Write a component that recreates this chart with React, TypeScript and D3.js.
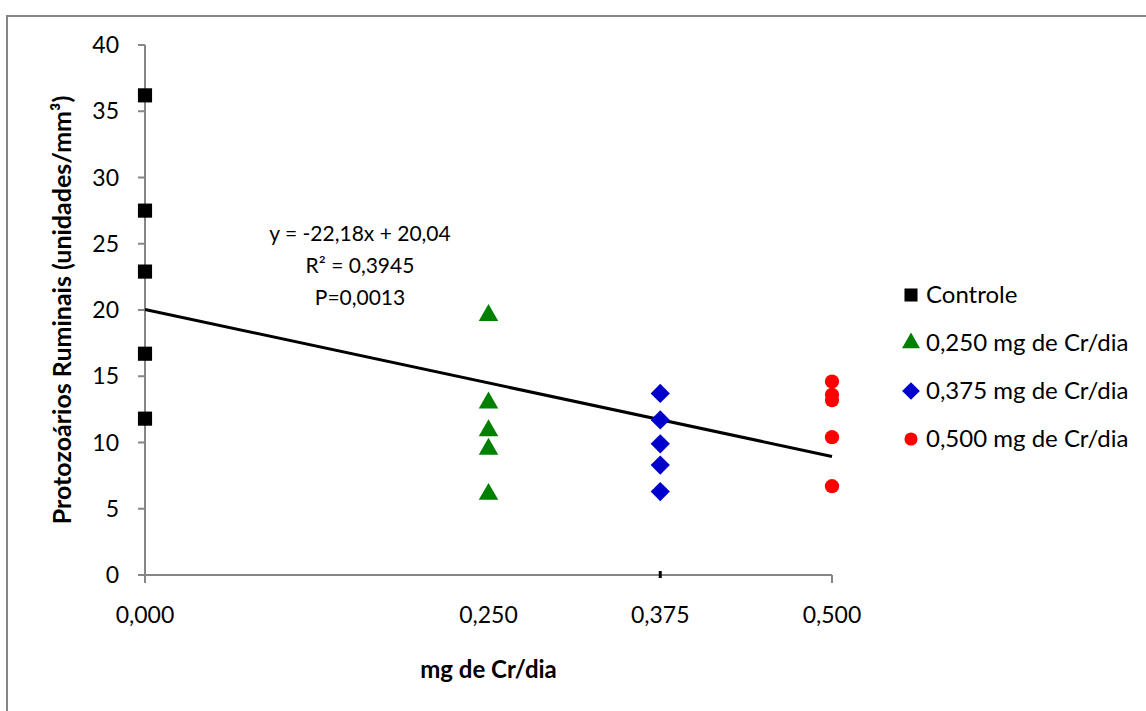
import * as d3 from 'd3';
import { useEffect, useRef } from 'react';

// values
const doses = [0, 0.25, 0.375, 0.5];
const doseLabels = ['0,000', '0,250', '0,375', '0,500'];
const controle = [36.2, 27.5, 22.9, 16.7, 11.8];
const cr250 = [19.6, 13.0, 10.9, 9.5, 6.1];
const cr375 = [13.7, 11.7, 9.9, 8.3, 6.3];
const cr500 = [14.6, 13.6, 13.2, 10.4, 6.7];
const yTicks = [0, 5, 10, 15, 20, 25, 30, 35, 40];
const slope = -22.18, intercept = 20.04;
const eqLines = ['y = -22,18x + 20,04', 'R² = 0,3945', 'P=0,0013'];

const seriesNames = ['Controle', '0,250 mg de Cr/dia', '0,375 mg de Cr/dia', '0,500 mg de Cr/dia'];
const seriesColors = ['#000000', '#008000', '#0000cc', '#ff0000'];
// diamond = square turned 45deg
const seriesShapes = [d3.symbolSquare, d3.symbolTriangle, d3.symbolSquare, d3.symbolCircle];
const seriesRot = [0, 0, 45, 0];
const seriesSizes = [200, 165, 185, 160];

const FONT = 'Lato, "Open Sans", sans-serif';

const App = () => {
  const svgRef = useRef(null);
  const width = 1146, height = 711;

  useEffect(() => {
    document.body.style.margin = '0';
    const svg = d3.select(svgRef.current);
    svg.selectAll('*').remove();

    const x = d3.scaleLinear().domain([0, 0.5]).range([145, 832]);
    const y = d3.scaleLinear().domain([0, 40]).range([575, 45]);
    const grey = '#868686';

    svg.append('rect').attr('width', width).attr('height', height).attr('fill', '#fff');
    // outer chart frame
    svg.append('rect').attr('x', 7).attr('y', 16).attr('width', 1160).attr('height', 720)
      .attr('fill', 'none').attr('stroke', grey).attr('stroke-width', 2);

    // y axis
    svg.append('line').attr('x1', x(0)).attr('x2', x(0)).attr('y1', y(40)).attr('y2', y(0))
      .attr('stroke', grey).attr('stroke-width', 2);
    yTicks.forEach(t => {
      svg.append('line').attr('x1', x(0) - 7).attr('x2', x(0)).attr('y1', y(t)).attr('y2', y(t))
        .attr('stroke', grey).attr('stroke-width', 2);
      svg.append('text').attr('x', 119).attr('y', y(t)).attr('dy', '0.35em')
        .attr('text-anchor', 'end').style('font-family', FONT).style('font-size', '23px')
        .text(t);
    });

    // x axis
    svg.append('line').attr('x1', x(0)).attr('x2', x(0.5)).attr('y1', y(0)).attr('y2', y(0))
      .attr('stroke', grey).attr('stroke-width', 2);
    [0, 0.5].forEach(t => {
      svg.append('line').attr('x1', x(t)).attr('x2', x(t)).attr('y1', y(0)).attr('y2', y(0) + 8)
        .attr('stroke', grey).attr('stroke-width', 2);
    });
    svg.append('line').attr('x1', x(0.375)).attr('x2', x(0.375)).attr('y1', y(0) - 4).attr('y2', y(0) + 3)
      .attr('stroke', '#000').attr('stroke-width', 3);
    doses.forEach((d, i) => {
      svg.append('text').attr('x', x(d)).attr('y', 615).attr('dy', '0.35em')
        .attr('text-anchor', 'middle').style('font-family', FONT).style('font-size', '23px')
        .text(doseLabels[i]);
    });

    // axis titles
    svg.append('text').attr('x', x(0.25)).attr('y', 670).attr('dy', '0.35em')
      .attr('text-anchor', 'middle').style('font-family', FONT).style('font-size', '24px')
      .style('font-weight', 'bold').text('mg de Cr/dia');
    svg.append('text').attr('transform', `translate(62,${y(20)}) rotate(-90)`).attr('dy', '0.35em')
      .attr('text-anchor', 'middle').style('font-family', FONT).style('font-size', '25px')
      .style('font-weight', 'bold').text('Protozoários Ruminais (unidades/mm³)');

    // trend line
    svg.append('line').attr('x1', x(0)).attr('x2', x(0.5))
      .attr('y1', y(intercept)).attr('y2', y(intercept + slope * 0.5))
      .attr('stroke', '#000').attr('stroke-width', 3);

    // points
    const all = [controle, cr250, cr375, cr500];
    all.forEach((vals, si) => {
      const sym = d3.symbol().type(seriesShapes[si]).size(seriesSizes[si]);
      vals.forEach(v => {
        svg.append('path').attr('d', sym())
          .attr('transform', `translate(${x(doses[si])},${y(v)}) rotate(${seriesRot[si]})`)
          .attr('fill', seriesColors[si]);
      });
    });

    // equation label
    eqLines.forEach((t, i) => {
      svg.append('text').attr('x', 360).attr('y', 234 + i * 32).attr('dy', '0.35em')
        .attr('text-anchor', 'middle').style('font-family', FONT).style('font-size', '21px')
        .text(t);
    });

    // legend
    const legend = svg.append('g').attr('transform', 'translate(911,295)');
    seriesNames.forEach((n, i) => {
      const sym = d3.symbol().type(seriesShapes[i]).size(seriesSizes[i] * 0.85);
      legend.append('path').attr('d', sym())
        .attr('transform', `translate(0,${i * 48}) rotate(${seriesRot[i]})`)
        .attr('fill', seriesColors[i]);
      legend.append('text').attr('x', 15).attr('y', i * 48).attr('dy', '0.35em')
        .style('font-family', FONT).style('font-size', '24px').text(n);
    });
  }, []);

  return <svg ref={svgRef} width={width} height={height} style={{ display: 'block' }}></svg>;
};

export default App;
